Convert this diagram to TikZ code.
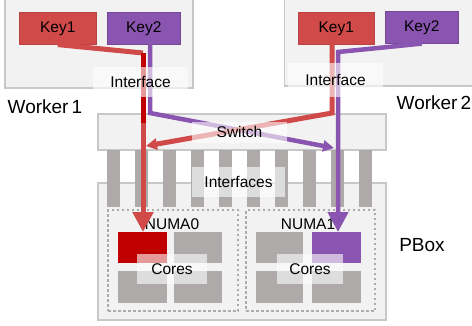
\documentclass[tikz,border=0pt]{standalone}
\usepackage{fontspec}
\setmainfont{Liberation Sans}
\usetikzlibrary{arrows.meta}
\definecolor{keyred}{HTML}{D04A4A}
\definecolor{keypurple}{HTML}{8A55B0}
\definecolor{darkred}{HTML}{C00000}
\definecolor{bargray}{HTML}{AEAAAA}
\definecolor{boxfill}{HTML}{F2F2F2}
\definecolor{boxline}{HTML}{C8C8C8}
\begin{document}
\begin{tikzpicture}[x=1pt,y=-1pt,
  nw/.style={rectangle, inner sep=0pt, anchor=north west},
  wbox/.style={nw, draw=boxline, fill=boxfill, line width=1.5pt},
  keyr/.style={nw, fill=keyred, draw=keyred!90!black, line width=0.6pt, font=\fontsize{15.5pt}{18pt}\selectfont, minimum height=32pt},
  keyp/.style={nw, fill=keypurple, draw=keypurple!85!black, line width=0.6pt, font=\fontsize{15.5pt}{18pt}\selectfont, minimum height=32pt},
  bar/.style={nw, fill=bargray, minimum width=13pt, minimum height=57pt},
  core/.style={nw, fill=bargray},
  numa/.style={nw, draw=bargray, line width=2pt, dash pattern=on 2.5pt off 2.5pt},
  lab/.style={rectangle, inner sep=0pt, fill=white, fill opacity=0.6, text opacity=1, font=\fontsize{15.5pt}{18pt}\selectfont},
  txt/.style={inner sep=0pt, font=\fontsize{15.5pt}{18pt}\selectfont},
  bigtxt/.style={inner sep=0pt, font=\fontsize{19pt}{22pt}\selectfont},
  rline/.style={line width=5pt, keyred, line join=miter},
  pline/.style={line width=4.5pt, keypurple, line join=miter},
  smalltip/.style={-{Triangle[length=11pt,width=11pt]}},
  bigtip/.style={-{Triangle[length=20pt,width=20pt]}}
]
\useasboundingbox (0,0) rectangle (472,325);
% worker boxes
\node[wbox, minimum width=188pt, minimum height=92pt] (w1) at (4,-5) {};
\node[wbox, minimum width=188pt, minimum height=90pt] (w2) at (283.5,-5) {};
\node[keyr, minimum width=77pt] (k11) at (19,12) {Key1};
\node[keyp, minimum width=73pt] (k12) at (107,12) {Key2};
\node[keyr, minimum width=76pt] (k21) at (298,12) {Key1};
\node[keyp, minimum width=73pt] (k22) at (385,11) {Key2};
% switch and pbox
\node[wbox, minimum width=288pt, minimum height=36pt] (sw) at (97,113) {};
\node[wbox, minimum width=288pt, minimum height=137pt] (pb) at (97,182) {};
\foreach \i in {0,...,9} {
  \node[bar] (bar\i) at ({107+28*\i},150) {};
}
\node[numa, minimum width=130pt, minimum height=101pt] (n0) at (107,209) {};
\node[numa, minimum width=129pt, minimum height=101pt] (n1) at (245,209) {};
\node[core, minimum width=49pt, minimum height=31pt, fill=darkred] (c0a) at (118,232) {};
\node[core, minimum width=48pt, minimum height=31pt] (c0b) at (174,232) {};
\node[core, minimum width=49pt, minimum height=32pt] (c0c) at (118,271) {};
\node[core, minimum width=48pt, minimum height=32pt] (c0d) at (174,271) {};
\node[core, minimum width=47pt, minimum height=31pt] (c1a) at (256,232) {};
\node[core, minimum width=49pt, minimum height=31pt, fill=keypurple] (c1b) at (312,232) {};
\node[core, minimum width=47pt, minimum height=32pt] (c1c) at (256,271) {};
\node[core, minimum width=49pt, minimum height=32pt] (c1d) at (312,271) {};
\node[txt] (numa0) at (172,224.5) {NUMA0};
\node[txt] (numa1) at (308,224) {NUMA1};
% connector bend points
\coordinate (r1b) at (143,53);
\coordinate (r1e) at (143,123);
\coordinate (r1d) at (143,118);
\coordinate (p1s) at (150,44);
\coordinate (p1b) at (150,113);
\coordinate (p1e) at (334,148);
\coordinate (r2s) at (332,44);
\coordinate (r2b) at (332,113);
\coordinate (r2e) at (146,146);
\coordinate (p2b) at (338,52);
% connectors
\draw[rline, bigtip] (r1d) -- (c0a.north -| r1d);
\draw[rline] (k11.south) -- (r1b);
\draw[line width=5pt, darkred] (r1b) -- (r1e);
\draw[pline, smalltip] (p1s) -- (p1b) -- (p1e);
\draw[rline, smalltip] (r2s) -- (r2b) -- (r2e);
\draw[pline, bigtip] (k22.south) -- (p2b) -- (c1b.north -| p2b);
% labels
\node[lab, minimum width=95pt, minimum height=30pt] (if1) at (140.5,82) {Interface};
\node[lab, minimum width=95pt, minimum height=34pt] (if2) at (335.5,80) {Interface};
\node[lab, minimum width=95pt, minimum height=21pt] (swl) at (239.5,132) {Switch};
\node[lab, minimum width=93pt, minimum height=30pt] (ifs) at (238.5,182) {Interfaces};
\node[lab, minimum width=70pt, minimum height=30pt] (cl0) at (172,269) {Cores};
\node[lab, minimum width=66pt, minimum height=30pt] (cl1) at (310,269) {Cores};
\node[bigtxt] (wk1) at (45,107) {Worker\,1};
\node[bigtxt] (wk2) at (434,103) {Worker\,2};
\node[bigtxt] (pbt) at (422,245) {PBox};
\end{tikzpicture}
\end{document}
